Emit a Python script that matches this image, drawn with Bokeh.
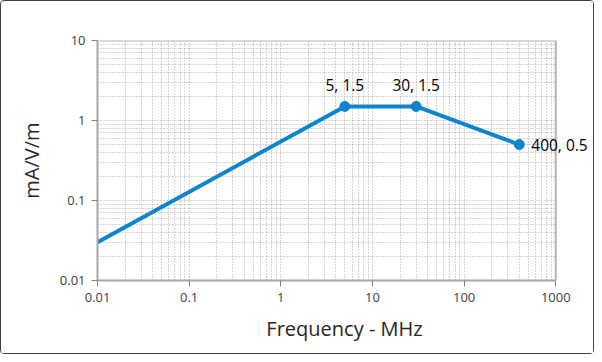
from bokeh.plotting import figure
from bokeh.models import FixedTicker, ColumnDataSource, LabelSet, BoxAnnotation
from bokeh.core.properties import value
from bokeh.embed import file_html
from bokeh.resources import INLINE

# data
freq = [0.01, 5, 30, 400]
level = [0.03, 1.5, 1.5, 0.5]
marked_freq = [5, 30, 400]
marked_level = [1.5, 1.5, 0.5]
x_ticks = [0.01, 0.1, 1, 10, 100, 1000]
x_tick_labels = ["0.01", "0.1", "1", "10", "100", "1000"]
y_ticks = [0.01, 0.1, 1, 10]
y_tick_labels = ["0.01", "0.1", "1", "10"]

FONT = "Open Sans"
BLUE = "#0d84cc"
GRID = "#a8a8a8"

# the frame extends a little beyond 1000 (0.39 decade) so the right-hand data label is not clipped;
# the chart area itself stops at 1000 (axis bounds + white mask + border lines)
x_end = x_ticks[-1] * 10 ** 0.39

p = figure(width=594, height=354, x_axis_type="log", y_axis_type="log",
           x_range=(x_ticks[0], x_end), y_range=(y_ticks[0], y_ticks[-1]),
           output_backend="svg", toolbar_location=None,
           min_border_left=96, min_border_right=4, min_border_top=39, min_border_bottom=75)
p.styles = {"border": "1px solid #404040", "border-radius": "4px", "box-sizing": "border-box"}

minor_x = [m * 10.0 ** e for e in range(-2, 3) for m in range(2, 10)]
minor_y = [m * 10.0 ** e for e in range(-2, 1) for m in range(2, 10)]
p.xaxis.ticker = FixedTicker(ticks=x_ticks, minor_ticks=minor_x)
p.yaxis.ticker = FixedTicker(ticks=y_ticks, minor_ticks=minor_y)
p.xaxis.major_label_overrides = {t: l for t, l in zip(x_ticks, x_tick_labels)}
p.yaxis.major_label_overrides = {t: l for t, l in zip(y_ticks, y_tick_labels)}
p.xaxis.bounds = (x_ticks[0], x_ticks[-1])

for ax in (p.xaxis, p.yaxis):
    ax.axis_line_color = "#a6a6a6"
    ax.axis_line_width = 2
    ax.major_tick_line_color = "#808080"
    ax.major_tick_out = 6
    ax.major_tick_in = 0
    ax.minor_tick_line_color = None
    ax.major_label_text_font = FONT
    ax.major_label_text_font_size = "13px"
    ax.major_label_text_color = "#404040"
    ax.axis_label_text_font = FONT
    ax.axis_label_text_font_size = "20px"
    ax.axis_label_text_font_style = "normal"
    ax.axis_label_text_color = "#262626"

p.xaxis.axis_label = "Frequency - MHz"
p.yaxis.axis_label = "mA/V/m"
p.xaxis.major_label_standoff = 6
p.yaxis.major_label_standoff = 6
p.xaxis.axis_label_standoff = 10
p.yaxis.axis_label_standoff = 12

for g in (p.xgrid, p.ygrid):
    g.grid_line_color = GRID
    g.grid_line_dash = "1 2"
    g.minor_grid_line_color = GRID
    g.minor_grid_line_dash = "1 2"

p.outline_line_color = None

# mask beyond the last x tick
p.add_layout(BoxAnnotation(left=x_ticks[-1], fill_color="white", fill_alpha=1,
                           line_color=None, level="underlay"))
# top and right border of the chart area
p.line([x_ticks[0], x_ticks[-1], x_ticks[-1]], [y_ticks[-1], y_ticks[-1], y_ticks[0]],
       line_color="#b4b4b4", line_width=2)

p.line(freq, level, line_color=BLUE, line_width=4)
p.scatter(marked_freq, marked_level, size=10, fill_color=BLUE, line_color=BLUE)

labels = [f"{x:g}, {y:g}" for x, y in zip(marked_freq, marked_level)]
src_top = ColumnDataSource(dict(x=marked_freq[:2], y=marked_level[:2], t=labels[:2]))
src_right = ColumnDataSource(dict(x=marked_freq[2:], y=marked_level[2:], t=labels[2:]))
p.add_layout(LabelSet(x="x", y="y", text="t", source=src_top, y_offset=10, level="overlay",
                      text_align="center", text_baseline="bottom",
                      text_font=value(FONT), text_font_size=value("15.5px"), text_color="#000000"))
p.add_layout(LabelSet(x="x", y="y", text="t", source=src_right, x_offset=12, level="overlay",
                      text_align="left", text_baseline="middle",
                      text_font=value(FONT), text_font_size=value("15.5px"), text_color="#000000"))

p.background_fill_color = "white"
p.border_fill_color = "white"

open("out.html", "w").write(file_html(p, INLINE))
